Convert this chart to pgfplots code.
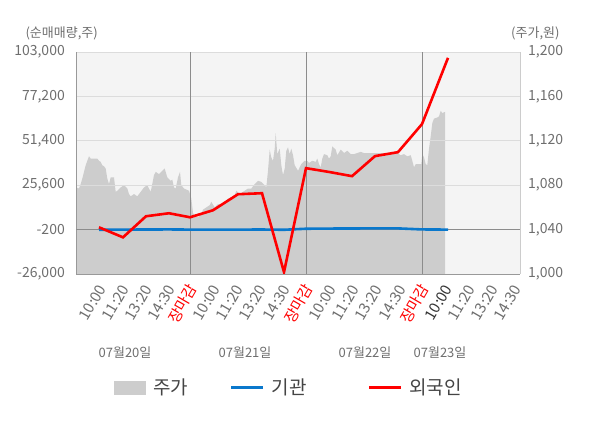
\documentclass[border=0pt]{standalone}
\usepackage{pgfplots}
\pgfplotsset{compat=1.18}
\usepackage{fontspec}
\setmainfont{Noto Sans CJK KR}
\definecolor{bgc}{HTML}{F4F4F4}
\definecolor{areac}{HTML}{CDCDCD}
\definecolor{gridc}{HTML}{DCDCDC}
\definecolor{zeroc}{HTML}{8C8C8C}
\definecolor{sepc}{HTML}{8C8C8C}
\definecolor{botc}{HTML}{999999}
\definecolor{rightc}{HTML}{CCCCCC}
\definecolor{labc}{HTML}{6E6E6E}
\definecolor{darkc}{HTML}{333333}
\definecolor{legc}{HTML}{444444}
\definecolor{bluec}{HTML}{0A78CC}
\definecolor{redc}{HTML}{FF0000}
\pgfplotsset{
  mylinelegend/.style={legend image code/.code={\draw[##1] (0bp,0bp) -- (32bp,0bp);}},
  myboxlegend/.style={legend image code/.code={\fill[##1] (0bp,-7bp) rectangle (32bp,7bp);}},
}
\pgfplotstableread{
x y
76 1078
79 1077
80.7 1081
82.3 1086
84 1092
85.7 1098
87.3 1102
89 1106
90.7 1104
94 1104
97.3 1104
99 1102
100.7 1101
102.3 1098
104 1097
105.7 1095
107.3 1086
109 1081
110.7 1087
114 1087
115.7 1074
117.3 1075
120.7 1078
124 1080
127.3 1077
129 1072
130.7 1070
134 1072
137.3 1070
140.7 1074
144 1078
147.3 1080
150.7 1074
154 1089
155.7 1092
159 1090
162.3 1093
164.7 1095
167.3 1087
170.7 1084
172.3 1085
174 1078
175.7 1077
178 1087
180 1092
181.3 1080
184 1077
189 1075
191.3 1068
193 1055
194.7 1052
198 1051
201.3 1054
203 1058
206.3 1060
209.7 1062
211.3 1065
214.7 1060
218 1063
221.3 1062
224.7 1064
228 1068
231.3 1069
234.7 1071
236.3 1075
239.7 1072
243 1074
248 1077
251.3 1077
254.7 1081
258 1084
261.3 1083
264.7 1080
266.3 1078
268 1093
269.7 1112
271.3 1105
273 1102
274.7 1113
275.7 1127
277.3 1108
279.7 1113
281.3 1098
283 1089
284.7 1095
286.3 1111
288 1114
289.7 1108
291.3 1113
293 1107
294.7 1098
298 1093
301.3 1099
304.7 1102
307.3 1102
309 1100
312.3 1102
315.7 1101
317.3 1104
319 1099
320.7 1096
322.3 1104
324 1108
327.3 1107
329 1104
330.7 1106
332.3 1115
335.7 1112
337.3 1107
340.7 1112
344 1109
347.3 1111
350.7 1108
354 1108
360.7 1110
364 1109
370.7 1109
380.7 1109
390.7 1109
394 1108
397.3 1109
400.7 1107
404 1108
407.3 1106
410.7 1107
412.3 1102
414 1096
415.7 1099
419 1099
421.3 1099
422.3 1108
424 1105
425.7 1099
427.3 1098
429 1113
430.7 1124
432.3 1136
434 1140
437.3 1141
439 1142
440.7 1147
442.3 1145
445 1146
}\pricetable
\pgfplotstableread{
x y
99 -300
123 -200
146 -150
169 -100
190 -200
213 -250
238 -200
262 -150
284 -300
306 300
329 400
352 450
375 500
398 500
422 -100
448 -200
}\insttable
\pgfplotstableread{
x y
99 1140
123 -4700
146 7550
169 9300
190 6960
213 11040
238 20360
262 20940
284 -24900
306 35500
329 33300
352 30850
375 42500
398 44800
422 61100
448 99600
}\foreigntable
\begin{document}
\begin{tikzpicture}
\path[use as bounding box] (0bp,0bp) rectangle (600bp,428bp);
\begin{axis}[
  at={(76bp,154bp)}, anchor=south west,
  scale only axis, width=444bp, height=222bp,
  xmin=76, xmax=520, ymin=1000, ymax=1200,
  axis background/.style={fill=bgc},
  axis on top,
  axis x line*=bottom, axis y line*=right,
  x axis line style={draw=botc, line width=0.8bp, -},
  y axis line style={draw=rightc, line width=0.8bp, -},
  ytick={1000,1040,1080,1120,1160,1200},
  yticklabels={{1,000},{1,040},{1,080},{1,120},{1,160},{1,200}},
  scaled y ticks=false,
  ymajorgrids, y grid style={gridc, line width=0.8bp},
  ytick style={draw=none},
  yticklabel style={font=\fontsize{14bp}{16bp}\selectfont, text=labc, inner sep=0pt, anchor=west},
  yticklabel shift=3bp,
  xtick={99,122,145,168,213,236,259,283,329,352,375,399,445,468,491,514},
  xticklabels={10:00,11:20,13:20,14:30,10:00,11:20,13:20,14:30,10:00,11:20,13:20,14:30,{\textcolor{darkc}{10:00}},11:20,13:20,14:30},
  xtick style={draw=none},
  tick align=outside, major tick length=5bp,
  xticklabel style={xshift=3bp, yshift=-7bp, rotate=60, anchor=east, inner sep=0pt, font=\fontsize{15bp}{17bp}\selectfont, text=labc},
  extra x ticks={190,306,422},
  extra x tick labels={장마감,장마감,장마감},
  extra x tick style={grid=major, major grid style={sepc, line width=0.8bp}, tick style={draw=sepc, line width=0.8bp}, xticklabel style={text=redc}},
]
\addplot[fill=areac, draw=none] table[x=x, y=y] {\pricetable} \closedcycle;
\end{axis}
\begin{axis}[
  at={(76bp,154bp)}, anchor=south west,
  scale only axis, width=444bp, height=222bp,
  xmin=76, xmax=520, ymin=-26000, ymax=103000,
  axis x line=none, axis y line*=left,
  y axis line style={draw=botc, line width=0.8bp, -},
  ytick={-26000,-200,25600,51400,77200,103000},
  yticklabels={{-26,000},{-200},{25,600},{51,400},{77,200},{103,000}},
  scaled y ticks=false,
  ytick style={draw=none},
  yticklabel style={font=\fontsize{14bp}{16bp}\selectfont, text=labc, inner sep=0pt, anchor=east},
  yticklabel shift=11bp,
  legend columns=3,
  legend style={at={(0.0856,-0.512)}, anchor=west, draw=none, fill=none, inner sep=0pt,
    font=\fontsize{19bp}{21bp}\selectfont, text=legc,
    nodes={inner sep=0pt},
    /tikz/every odd column/.append style={column sep=7bp},
    /tikz/column 2/.append style={column sep=42bp},
    /tikz/column 4/.append style={column sep=61bp}},
]
\addplot[zeroc, line width=1bp, forget plot] coordinates {(76,-200) (520,-200)};
\addlegendimage{fill=areac, draw=none, myboxlegend}
\addlegendentry{주가}
\addplot[bluec, line width=2.6bp, mylinelegend] table[x=x, y=y] {\insttable};
\addlegendentry{기관}
\addplot[redc, line width=2.6bp, mylinelegend] table[x=x, y=y] {\foreigntable};
\addlegendentry{외국인}
\end{axis}
\node[font=\fontsize{13bp}{15bp}\selectfont, text=labc, anchor=west] at (22bp,394.5bp) {(순매매량,주)};
\node[font=\fontsize{13bp}{15bp}\selectfont, text=labc, anchor=east] at (563bp,394.5bp) {(주가,원)};
\node[font=\fontsize{13bp}{15bp}\selectfont, text=labc] at (125bp,75bp) {07월20일};
\node[font=\fontsize{13bp}{15bp}\selectfont, text=labc] at (245bp,75bp) {07월21일};
\node[font=\fontsize{13bp}{15bp}\selectfont, text=labc] at (365bp,75bp) {07월22일};
\node[font=\fontsize{13bp}{15bp}\selectfont, text=labc] at (440bp,75bp) {07월23일};
\end{tikzpicture}
\end{document}
